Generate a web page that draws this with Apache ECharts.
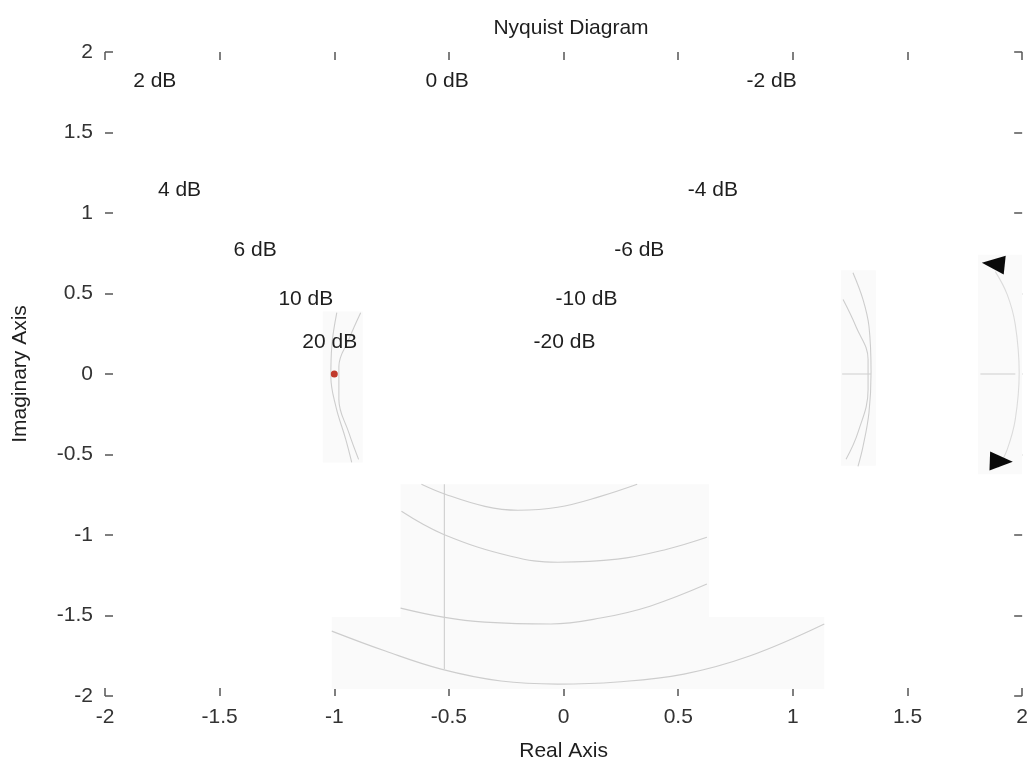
<!DOCTYPE html>
<html>
<head>
<meta charset="utf-8">
<script src="https://cdn.jsdelivr.net/npm/echarts@6/dist/echarts.min.js"></script>
<style>html,body{margin:0;padding:0;background:#fff}#c{width:1031px;height:767px}</style>
</head>
<body>
<div id="c"></div>
<script>
// ---- data ----
var xTicks = [-2, -1.5, -1, -0.5, 0, 0.5, 1, 1.5, 2];
var yTicks = [-2, -1.5, -1, -0.5, 0, 0.5, 1, 1.5, 2];

var dbLabels = ['2 dB', '0 dB', '-2 dB', '4 dB', '-4 dB', '6 dB', '-6 dB', '10 dB', '-10 dB', '20 dB', '-20 dB'];
var dbLabelX = [-1.783, -0.508, 0.907, -1.675, 0.651, -1.345, 0.330, -1.124, 0.100, -1.020, 0.004];
var dbLabelY = [1.820, 1.820, 1.820, 1.144, 1.144, 0.772, 0.772, 0.462, 0.462, 0.195, 0.195];

// faint M-circle fragments visible in the scan
var arc1X = [-0.620, -0.516, -0.343, -0.200, -0.026, 0.161, 0.321];
var arc1Y = [-0.685, -0.747, -0.822, -0.846, -0.828, -0.760, -0.685];
var arc2X = [-0.707, -0.525, -0.230, -0.026, 0.234, 0.451, 0.625];
var arc2Y = [-0.853, -0.995, -1.132, -1.169, -1.150, -1.088, -1.014];
var arc3X = [-0.711, -0.525, -0.343, -0.056, 0.161, 0.377, 0.625];
var arc3Y = [-1.454, -1.510, -1.541, -1.553, -1.516, -1.442, -1.305];
var arc4X = [-1.011, -0.777, -0.534, -0.273, -0.026, 0.234, 0.525, 0.811, 1.137];
var arc4Y = [-1.597, -1.721, -1.833, -1.907, -1.926, -1.913, -1.864, -1.752, -1.553];
var zeroDbX = [-0.52, -0.52];
var zeroDbY = [-0.685, -1.833];
var arcAX = [-0.989, -1.011, -1.015, -0.993, -0.950, -0.924];
var arcAY = [0.381, 0.171, -0.016, -0.202, -0.406, -0.549];
var arcBX = [-0.885, -0.937, -0.980, -0.980, -0.937, -0.894];
var arcBY = [0.381, 0.214, 0.047, -0.158, -0.363, -0.530];
var arcCX = [1.262, 1.306, 1.332, 1.341, 1.332, 1.306, 1.284];
var arcCY = [0.629, 0.462, 0.295, 0.009, -0.239, -0.450, -0.574];
var arcDX = [1.219, 1.275, 1.328, 1.328, 1.284, 1.232];
var arcDY = [0.462, 0.295, 0.090, -0.096, -0.363, -0.530];
var axisSegAX = [1.215, 1.341];
var axisSegBX = [1.818, 1.970];
var axisSegY = [0, 0];

// Nyquist curve fragment at the right edge, with its direction arrows
var curveX = [1.883, 1.935, 1.970, 1.987, 1.970, 1.935, 1.896];
var curveY = [0.636, 0.493, 0.307, 0.009, -0.282, -0.468, -0.580];
var arrowX = [1.874, 1.909];
var arrowY = [0.684, -0.543];
var arrowAngle = [84, -92];

var critX = [-1];
var critY = [0];

// light scan patches [x1, y1, x2, y2]
var patches = [
  [-1.050, 0.388, -0.876, -0.549],
  [1.210, 0.645, 1.362, -0.570],
  [1.807, 0.741, 2.0, -0.623],
  [-0.711, -0.685, 0.634, -1.510],
  [-1.011, -1.510, 1.137, -1.957]
];

function zip(xs, ys) { return xs.map(function (v, i) { return [v, ys[i]]; }); }

var FONT = 'Liberation Sans';
var FS = 21;
var arcStyle = { color: '#cdcdcd', width: 1.1 };

function arcSeries(xs, ys, smooth) {
  return {
    type: 'line', data: zip(xs, ys), smooth: smooth === false ? false : 0.4,
    showSymbol: false, lineStyle: arcStyle, silent: true, z: 3
  };
}

var series = [
  {
    type: 'line', data: [], silent: true, z: 1,
    markArea: {
      silent: true,
      itemStyle: { color: '#fafafa' },
      data: patches.map(function (p) { return [{ coord: [p[0], p[1]] }, { coord: [p[2], p[3]] }]; })
    }
  },
  arcSeries(arc1X, arc1Y), arcSeries(arc2X, arc2Y), arcSeries(arc3X, arc3Y), arcSeries(arc4X, arc4Y),
  arcSeries(zeroDbX, zeroDbY, false),
  arcSeries(arcAX, arcAY), arcSeries(arcBX, arcBY),
  arcSeries(arcCX, arcCY), arcSeries(arcDX, arcDY),
  arcSeries(axisSegAX, axisSegY, false), arcSeries(axisSegBX, axisSegY, false),
  {
    type: 'line', data: zip(curveX, curveY), smooth: 0.4, showSymbol: false,
    lineStyle: { color: '#dcdcdc', width: 1.1 }, silent: true, z: 3
  },
  {
    type: 'scatter', silent: true, z: 5,
    data: arrowX.map(function (v, i) { return { value: [v, arrowY[i]], symbolRotate: arrowAngle[i] }; }),
    symbol: 'triangle', symbolSize: [19, 23],
    itemStyle: { color: '#0a0a0a', opacity: 1 }
  },
  {
    type: 'scatter', silent: true, z: 6, data: zip(critX, critY),
    symbol: 'circle', symbolSize: 7, itemStyle: { color: '#c0392b', opacity: 1 }
  },
  {
    type: 'scatter', silent: true, z: 7,
    data: dbLabels.map(function (t, i) { return { name: t, value: [dbLabelX[i], dbLabelY[i]] }; }),
    symbolSize: 1, itemStyle: { color: 'rgba(0,0,0,0)', opacity: 1 },
    label: {
      show: true, position: 'inside', formatter: '{b}', opacity: 1,
      fontFamily: FONT, fontSize: FS, color: '#1e1e1e'
    }
  }
];

var tickStyle = { show: true, inside: true, length: 8, lineStyle: { color: '#555', width: 1.5 } };
var hiddenLine = { show: false, onZero: false };

var option = {
  backgroundColor: '#fff',
  animation: false,
  title: {
    text: 'Nyquist Diagram', left: 566, top: 13, textAlign: 'center',
    textStyle: { fontFamily: FONT, fontSize: FS, fontWeight: 'normal', color: '#1e1e1e' }
  },
  grid: { left: 105, right: 4, top: 52, bottom: 70 },
  xAxis: [
    {
      type: 'value', min: xTicks[0], max: xTicks[xTicks.length - 1], interval: 0.5,
      position: 'bottom',
      name: 'Real Axis', nameLocation: 'middle', nameGap: 45,
      nameTextStyle: { fontFamily: FONT, fontSize: FS, color: '#1e1e1e' },
      axisLine: hiddenLine, axisTick: tickStyle, splitLine: { show: false },
      axisLabel: { fontFamily: FONT, fontSize: FS, color: '#333', margin: 11 }
    },
    {
      type: 'value', min: xTicks[0], max: xTicks[xTicks.length - 1], interval: 0.5,
      position: 'top',
      axisLine: hiddenLine, axisTick: tickStyle, splitLine: { show: false },
      axisLabel: { show: false }
    }
  ],
  yAxis: [
    {
      type: 'value', min: yTicks[0], max: yTicks[yTicks.length - 1], interval: 0.5,
      position: 'left',
      name: 'Imaginary Axis', nameLocation: 'middle', nameGap: 74,
      nameTextStyle: { fontFamily: FONT, fontSize: FS, color: '#1e1e1e' },
      axisLine: hiddenLine, axisTick: tickStyle, splitLine: { show: false },
      axisLabel: { fontFamily: FONT, fontSize: FS, color: '#333', margin: 12 }
    },
    {
      type: 'value', min: yTicks[0], max: yTicks[yTicks.length - 1], interval: 0.5,
      position: 'right',
      axisLine: hiddenLine, axisTick: tickStyle, splitLine: { show: false },
      axisLabel: { show: false }
    }
  ],
  series: series
};

var chart = echarts.init(document.getElementById('c'), null, { renderer: 'canvas' });
chart.setOption(option);
</script>
</body>
</html>
